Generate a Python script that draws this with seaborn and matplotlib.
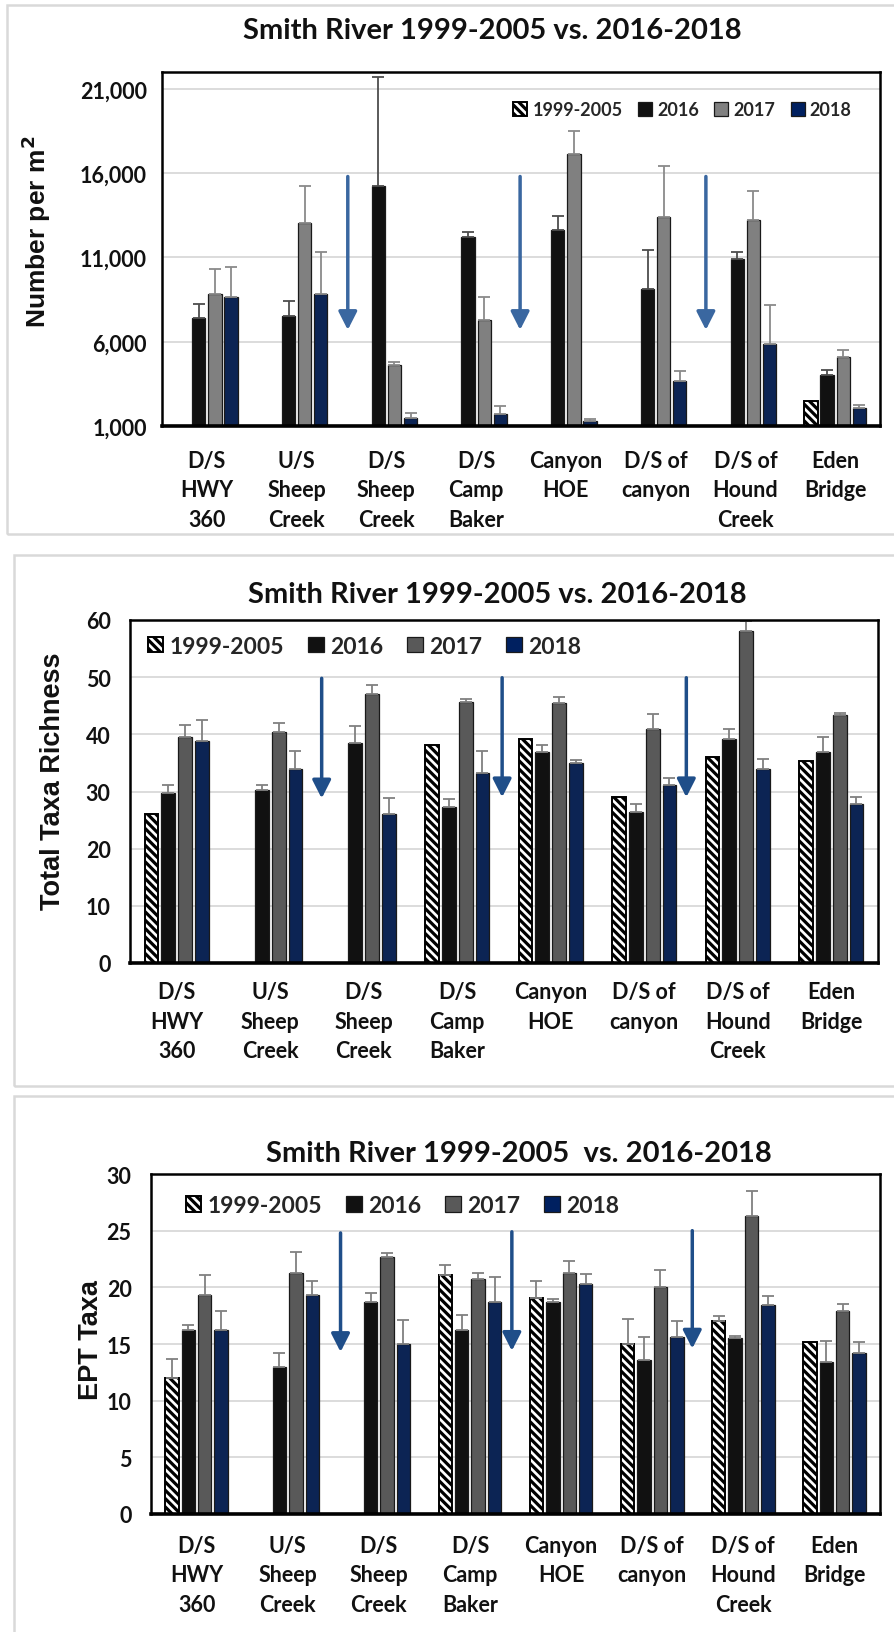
import numpy as np
import pandas as pd
import matplotlib
matplotlib.use("Agg")
import matplotlib.pyplot as plt
import seaborn as sns
from matplotlib.patches import Patch, Rectangle
from matplotlib.ticker import FuncFormatter

# ---------------------------------------------------------------- data
sites = ["D/S\nHWY\n360", "U/S\nSheep\nCreek", "D/S\nSheep\nCreek", "D/S\nCamp\nBaker",
         "Canyon\nHOE", "D/S of\ncanyon", "D/S of\nHound\nCreek", "Eden\nBridge"]
periods = ["1999-2005", "2016", "2017", "2018"]

title_main = "Smith River 1999-2005 vs. 2016-2018"
title_ept = "Smith River 1999-2005  vs. 2016-2018"

nan = np.nan

# Macroinvertebrate density (number per m2), mean and +1 SE
dens_hist = [nan, nan, nan, nan, nan, nan, nan, 2480]
dens_2016 = [7400, 7550, 15250, 12200, 12620, 9100, 10900, 4030]
dens_2017 = [8860, 13040, 4620, 7260, 17130, 13380, 13230, 5120]
dens_2018 = [8660, 8860, 1500, 1710, 1300, 3650, 5890, 2050]
dens_hist_err = [nan, nan, nan, nan, nan, nan, nan, nan]
dens_2016_err = [850, 870, 6440, 310, 810, 2320, 430, 300]
dens_2017_err = [1460, 2210, 200, 1380, 1380, 3060, 1720, 390]
dens_2018_err = [1800, 2440, 300, 480, 120, 610, 2270, 200]

# Total taxa richness
rich_hist = [26.0, nan, nan, 38.1, 39.1, 29.1, 36.0, 35.4]
rich_2016 = [29.8, 30.2, 38.4, 27.3, 36.9, 26.5, 39.2, 36.9]
rich_2017 = [39.6, 40.4, 47.1, 45.6, 45.4, 41.0, 58.1, 43.3]
rich_2018 = [38.9, 34.0, 26.0, 33.3, 35.0, 31.2, 34.0, 27.9]
rich_hist_err = [nan, nan, nan, nan, nan, nan, nan, nan]
rich_2016_err = [1.4, 1.0, 3.1, 1.4, 1.2, 1.4, 1.8, 2.7]
rich_2017_err = [2.1, 1.5, 1.6, 0.5, 1.2, 2.5, 1.8, 0.4]
rich_2018_err = [3.6, 3.1, 2.9, 3.8, 0.5, 1.1, 1.6, 1.2]

# EPT taxa
ept_hist = [12.0, nan, nan, 21.1, 19.1, 15.0, 17.0, 15.2]
ept_2016 = [16.25, 13.0, 18.7, 16.25, 18.7, 13.6, 15.5, 13.4]
ept_2017 = [19.3, 21.3, 22.7, 20.7, 21.3, 20.05, 26.3, 17.9]
ept_2018 = [16.25, 19.3, 15.0, 18.7, 20.3, 15.6, 18.4, 14.25]
ept_hist_err = [1.7, nan, nan, 0.85, 1.5, 2.2, 0.5, nan]
ept_2016_err = [0.45, 1.2, 0.8, 1.35, 0.3, 2.0, 0.2, 1.9]
ept_2017_err = [1.8, 1.8, 0.3, 0.6, 1.0, 1.5, 2.2, 0.65]
ept_2018_err = [1.7, 1.3, 2.1, 2.2, 0.85, 1.45, 0.8, 0.95]

# Downward arrows between site groups: (x position, start value, tip value)
dens_arrows = [(1.57, 15800, 6700), (3.49, 15800, 6700), (5.56, 15800, 6700)]
rich_arrows = [(1.55, 49.8, 28.8), (3.48, 49.9, 29.0), (5.45, 49.9, 29.0)]
ept_arrows = [(1.58, 24.8, 14.3), (3.46, 24.9, 14.4), (5.44, 25.0, 14.6)]

# ---------------------------------------------------------------- style
sns.set_theme(style="white")
CAL = ["Lato", "DejaVu Sans"]
ARIAL = ["Liberation Sans", "DejaVu Sans"]
plt.rcParams["font.family"] = CAL
plt.rcParams["hatch.linewidth"] = 2.3
plt.rcParams["hatch.color"] = "black"
HATCH = "\\\\\\\\"

W, H = 895, 1633
fig = plt.figure(figsize=(W / 100, H / 100), dpi=100)
fig.patch.set_facecolor("white")


def px_axes(left, right, top, bottom):
    return fig.add_axes([left / W, 1 - bottom / H, (right - left) / W, (bottom - top) / H])


def long_frame(values, errors):
    rows = []
    for p, vals, errs in zip(periods, values, errors):
        for s, v, e in zip(sites, vals, errs):
            if not np.isnan(v):
                rows.append({"site": s, "period": p, "value": v, "err": e})
    return pd.DataFrame(rows)


def draw_panel(ax, values, errors, colors, err_colors, ylim, yticks, ylabel,
               label_xy, arrows, arrow_color, legend_cfg, fmt=None,
               tick_pad=11, xtick_pad=15):
    df = long_frame(values, errors)
    sns.barplot(data=df, x="site", y="value", hue="period", order=sites,
                hue_order=periods, palette=colors, width=0.72, gap=0.18,
                errorbar=None, edgecolor="#1a1a1a", linewidth=0.9,
                legend=False, ax=ax, zorder=2)
    # style bars & add one-sided error bars
    for p, cont in zip(periods, ax.containers):
        errs = dict(zip(sites, errors[periods.index(p)]))
        for bar in cont.patches:
            cx = bar.get_x() + bar.get_width() / 2
            idx = int(round(cx))
            if p == "1999-2005":
                bar.set_facecolor("white")
                bar.set_hatch(HATCH)
                bar.set_edgecolor("black")
                bar.set_linewidth(1.4)
            e = errs[sites[idx]]
            if not np.isnan(e):
                ax.errorbar(cx, bar.get_height(), yerr=[[0], [e]], fmt="none",
                            ecolor=err_colors[p], elinewidth=1.3, capsize=4.3,
                            capthick=1.3, zorder=3)
    ax.set_xlim(-0.5, len(sites) - 0.5)
    ax.set_ylim(*ylim)
    ax.set_yticks(yticks)
    if fmt:
        ax.yaxis.set_major_formatter(FuncFormatter(fmt))
    ax.yaxis.grid(True, color="#d9d9d9", linewidth=1.3, zorder=0)
    ax.set_axisbelow(True)
    ax.set_xlabel("")
    ax.set_xticks(range(len(sites)))
    ax.set_xticklabels(sites, fontsize=15.5, fontweight="bold", linespacing=1.5,
                       va="top", ha="center", multialignment="center", color="#111111")
    ax.tick_params(axis="x", length=0, pad=xtick_pad)
    ax.tick_params(axis="y", length=0, pad=tick_pad, labelsize=15.5)
    for t in ax.get_yticklabels():
        t.set_fontweight("bold")
        t.set_color("#111111")
    for side, sp in ax.spines.items():
        sp.set_visible(True)
        sp.set_color("black")
        sp.set_linewidth(2.6 if side == "bottom" else 1.8)
        sp.set_zorder(5)
    ax.set_ylabel(ylabel, fontsize=legend_cfg.get("lab", 19), fontweight="bold",
                  family=ARIAL, color="#111111")
    ax.yaxis.set_label_coords(*label_xy)
    for x, y0, y1 in arrows:
        ax.annotate("", xy=(x, y1), xytext=(x, y0),
                    arrowprops=dict(arrowstyle="-|>,head_length=0.55,head_width=0.28",
                                    mutation_scale=20, lw=2.5, color=arrow_color,
                                    shrinkA=0, shrinkB=0), zorder=4)
    handles = []
    for p in periods:
        if p == "1999-2005":
            handles.append(Patch(facecolor="white", edgecolor="black", hatch=HATCH,
                                 linewidth=1.4))
        else:
            handles.append(Patch(facecolor=colors[p], edgecolor="#1a1a1a", linewidth=0.9))
    leg = ax.legend(handles, periods, ncol=4, loc="center",
                    bbox_to_anchor=legend_cfg["anchor"],
                    frameon=True, facecolor="white", edgecolor="none", framealpha=1,
                    handlelength=legend_cfg["hl"], handleheight=legend_cfg["hl"],
                    handletextpad=0.28, columnspacing=legend_cfg["colsp"], borderpad=0.5,
                    prop={"weight": "bold", "size": legend_cfg["size"], "family": CAL})
    leg.set_zorder(6)


# ---------------------------------------------------------------- panel frames
for (x0, y0, y1) in [(7, 6, 535), (14, 556, 1087), (14, 1097, 1650)]:
    fig.add_artist(Rectangle((x0 / W, 1 - y1 / H), (W + 20 - x0) / W, (y1 - y0) / H,
                             transform=fig.transFigure, facecolor="none",
                             edgecolor="#d9d9d9", linewidth=1.8, zorder=0))

# ---------------------------------------------------------------- panel 1: density
ax1 = px_axes(162, 880, 73, 427)
draw_panel(ax1, [dens_hist, dens_2016, dens_2017, dens_2018],
           [dens_hist_err, dens_2016_err, dens_2017_err, dens_2018_err],
           {"1999-2005": "white", "2016": "#111111", "2017": "#808080", "2018": "#002060"},
           {"1999-2005": "#7f7f7f", "2016": "#4d4d4d", "2017": "#8a8a8a", "2018": "#8a8a8a"},
           (1000, 22000), [1000, 6000, 11000, 16000, 21000], "Number per m$^\\mathbf{2}$",
           (-0.152, 0.552), dens_arrows, "#3a67a0",
           {"anchor": (0.725, 0.893), "size": 13, "colsp": 0.85, "hl": 0.78},
           fmt=lambda v, _: f"{int(v):,}", tick_pad=11, xtick_pad=17)

# ---------------------------------------------------------------- panel 2: richness
ax2 = px_axes(130, 878, 621, 964)
draw_panel(ax2, [rich_hist, rich_2016, rich_2017, rich_2018],
           [rich_hist_err, rich_2016_err, rich_2017_err, rich_2018_err],
           {"1999-2005": "white", "2016": "#111111", "2017": "#595959", "2018": "#002060"},
           {"1999-2005": "#808080", "2016": "#808080", "2017": "#808080", "2018": "#808080"},
           (0, 60), [0, 10, 20, 30, 40, 50, 60], "Total Taxa Richness",
           (-0.085, 0.533), rich_arrows, "#1f4e89",
           {"anchor": (0.3135, 0.924), "size": 16.5, "colsp": 1.05, "hl": 0.68, "lab": 19.5},
           tick_pad=14, xtick_pad=13)

# ---------------------------------------------------------------- panel 3: EPT taxa
ax3 = px_axes(151, 880, 1175, 1515)
draw_panel(ax3, [ept_hist, ept_2016, ept_2017, ept_2018],
           [ept_hist_err, ept_2016_err, ept_2017_err, ept_2018_err],
           {"1999-2005": "white", "2016": "#111111", "2017": "#595959", "2018": "#002060"},
           {"1999-2005": "#808080", "2016": "#808080", "2017": "#808080", "2018": "#808080"},
           (0, 30), [0, 5, 10, 15, 20, 25, 30], "EPT Taxa",
           (-0.064, 0.515), ept_arrows, "#1f4e89",
           {"anchor": (0.345, 0.908), "size": 16.5, "colsp": 1.05, "hl": 0.68, "lab": 19.5},
           tick_pad=14, xtick_pad=15)

# ---------------------------------------------------------------- titles
for txt, x, y in [(title_main, 492, 31), (title_main, 497, 595), (title_ept, 519, 1154)]:
    fig.text(x / W, 1 - y / H, txt, ha="center", va="center", fontsize=21,
             fontweight="bold", color="#111111", family=CAL)

fig.savefig("out.png", dpi=100, facecolor="white")
